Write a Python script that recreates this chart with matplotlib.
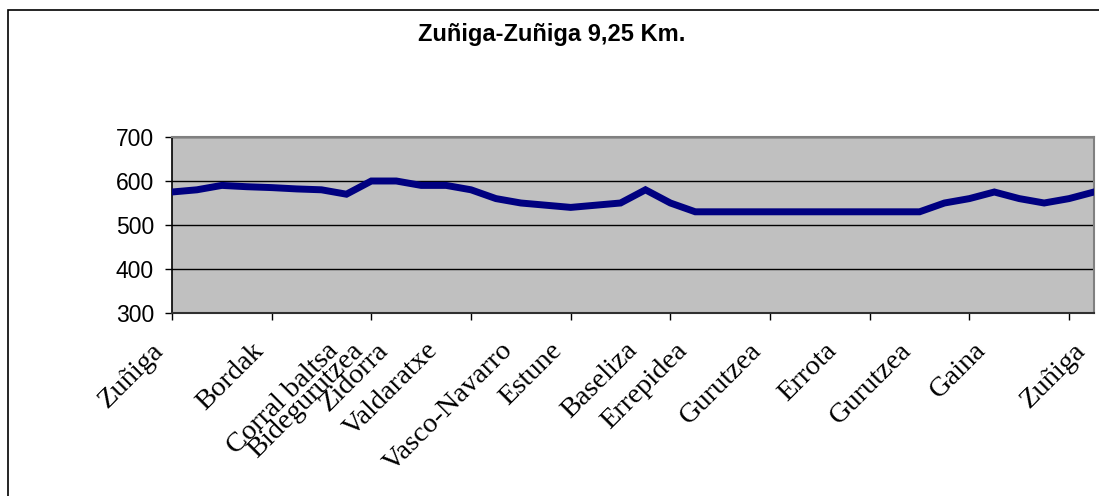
import matplotlib
matplotlib.use("Agg")
import matplotlib.pyplot as plt
from matplotlib.patches import Rectangle
from matplotlib.transforms import ScaledTranslation

# altitude profile, one point per step along the route
altitude = [575, 580, 590, 587, 585, 582, 580, 570, 600, 600,
            590, 590, 580, 560, 550, 545, 540, 545, 550, 580,
            550, 530, 530, 530, 530, 530, 530, 530, 530, 530,
            530, 550, 560, 575, 560, 550, 560, 575]

# named places and the step index where each one sits
place_idx = [0, 4, 7, 8, 9, 11, 14, 16, 19, 21, 24, 27, 30, 33, 37]
place_names = ["Zuñiga", "Bordak", "Corral baltsa", "Bidegurutzea", "Zidorra",
               "Valdaratxe", "Vasco-Navarro", "Estune", "Baseliza", "Errepidea",
               "Gurutzea", "Errota", "Gurutzea", "Gaina", "Zuñiga"]

y_ticks = [300, 400, 500, 600, 700]
title = "Zuñiga-Zuñiga 9,25 Km."

W, H, DPI = 1099, 496, 100
fig = plt.figure(figsize=(W / DPI, H / DPI), dpi=DPI)

# chart border
fig.patches.append(Rectangle((8 / W, -0.1), 1.2, 1 - 10 / H + 0.1,
                             transform=fig.transFigure, fill=False,
                             edgecolor="black", lw=1.2))

ax = fig.add_axes([172 / W, 1 - 313 / H, (1094 - 172) / W, (313 - 137) / H])
ax.set_facecolor("#c0c0c0")
x = list(range(len(altitude)))
ax.plot(x, altitude, color="#000080", lw=5, solid_joinstyle="miter", zorder=3)

ax.set_xlim(0, len(altitude) - 1)
ax.set_ylim(y_ticks[0], y_ticks[-1])
ax.set_yticks(y_ticks)
ax.yaxis.grid(True, color="black", lw=1.0)
ax.set_axisbelow(True)

for s in ("top", "right"):
    ax.spines[s].set_color("#808080")
    ax.spines[s].set_linewidth(1.5)
ax.spines["left"].set_color("black")
ax.spines["bottom"].set_color("#303030")
ax.spines["left"].set_linewidth(1.2)
ax.spines["bottom"].set_linewidth(1.5)

ax.tick_params(axis="y", length=5, width=1, pad=8,
               labelsize=16.5, labelfontfamily="Liberation Sans")

# tick marks every 4 steps, no tick labels on them
ax.set_xticks(range(0, len(altitude), 4))
ax.tick_params(axis="x", length=5, width=1, labelbottom=False)

# place names, rotated, ending just left of their step
shift = ScaledTranslation(-21 / DPI, -25 / DPI, fig.dpi_scale_trans)
for i, name in zip(place_idx, place_names):
    ax.text(i, 0, name, transform=ax.get_xaxis_transform() + shift,
            rotation=45, rotation_mode="anchor", ha="right", va="top",
            family="Liberation Serif", fontsize=20.5)

fig.text(0.502, 1 - 34 / H, title, ha="center", va="center",
         fontsize=17, fontweight="bold", family="Liberation Sans")

fig.savefig("out.png", dpi=DPI)
